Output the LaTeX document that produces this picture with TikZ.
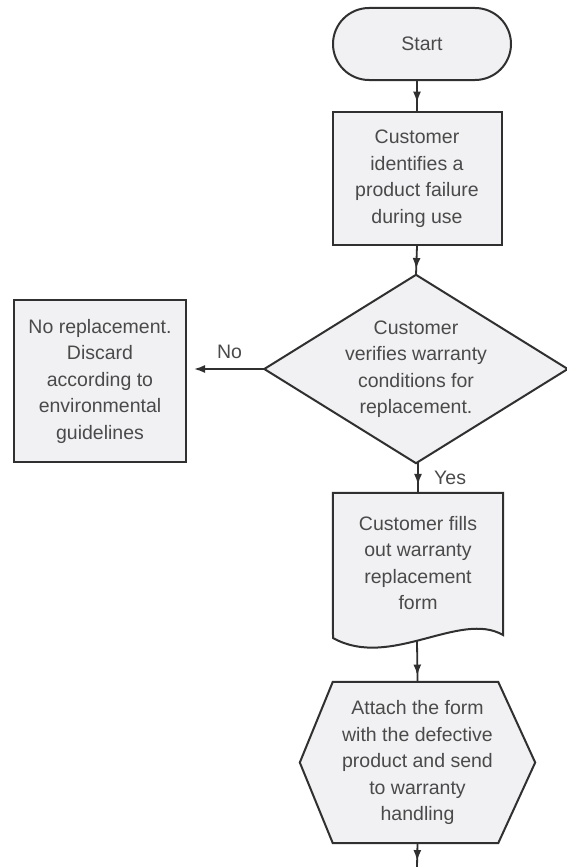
\documentclass[tikz,border=0pt]{standalone}
\usepackage{fontspec}
\setmainfont{Liberation Sans}
\usetikzlibrary{arrows.meta,decorations.markings,calc}
\definecolor{linec}{HTML}{303030}
\definecolor{fillc}{HTML}{F1F1F3}
\definecolor{textc}{HTML}{4A4A4A}
\tikzset{
  every node/.style={font=\fontsize{19.5}{26.5}\selectfont, text=textc},
  boxshape/.style={draw=linec, line width=2pt, fill=fillc, inner sep=0pt, align=center},
  ghost/.style={inner sep=0pt, align=center},
  outline/.style={draw=linec, line width=2pt, fill=fillc},
  conn/.style={draw=linec, line width=1.8pt},
  tipat/.style={postaction={decorate}, decoration={markings, mark=at position #1 with {\arrow{Latex[length=11pt,width=8pt]}}}},
  lbl/.style={inner sep=0pt}
}
\begin{document}
\begin{tikzpicture}[x=1pt,y=1pt]
\useasboundingbox (0,0) rectangle (567,-867);
\fill[white] (0,0) rectangle (567,-867);

% Start terminal
\node[boxshape, rounded corners=36pt, minimum width=178pt, minimum height=72pt] (start) at (422,-44) {Start};

% Box 1
\node[boxshape, minimum width=169pt, minimum height=133pt] (b1) at (417,-178.5)
  {Customer\\identifies a\\product failure\\during use};

% Diamond
\node[ghost, minimum width=303pt, minimum height=188pt] (dia) at (416,-369) {};
\path[outline] (dia.north) -- (dia.east) -- (dia.south) -- (dia.west) -- cycle;
\node[ghost] (diatext) at (dia.center) {Customer\\verifies warranty\\conditions for\\replacement.};

% No box
\node[boxshape, minimum width=172pt, minimum height=162pt] (nobox) at (100,-381)
  {No replacement.\\Discard\\according to\\environmental\\guidelines};

% Document
\node[ghost, minimum width=170pt, minimum height=140pt] (doc) at (418,-563) {};
\path[outline] (doc.north west) -- (doc.north east) -- (503,-635)
  .. controls (460,-610) and (390,-670) .. (333,-638) -- cycle;
\node[ghost] (doctext) at (doc.center) {Customer fills\\out warranty\\replacement\\form};
\coordinate (docb) at (417,-640);

% Hexagon
\node[ghost, minimum width=235pt, minimum height=161pt] (hex) at (417.5,-762.5) {};
\path[outline] (hex.west) -- ([xshift=33pt]hex.north west) -- ([xshift=-37pt]hex.north east)
  -- (hex.east) -- ([xshift=-37pt]hex.south east) -- ([xshift=33pt]hex.south west) -- cycle;
\node[ghost] (hextext) at (hex.center) {Attach the form\\with the defective\\product and send\\to warranty\\handling};

\coordinate (endpt) at (417,-867);

% Connectors
\path[conn, tipat=0.72] (b1.north |- start.south) -- (b1.north);
\path[conn, tipat=0.8] (b1.south) -- (dia.north);
\path[conn, -{Latex[length=11pt,width=8pt]}, shorten >=7pt] (dia.west) -- (dia.west -| nobox.east)
  node[lbl, pos=0.45, above=9pt] (nolbl) {No};
\path[conn, tipat=0.75] (dia.south) -- (doc.north |- dia.south) -- (doc.north);
\node[lbl, anchor=west] (yeslbl) at ($(dia.south)+(18,-15)$) {Yes};
\path[conn, tipat=0.85] (docb) -- (hex.north);
\path[conn, tipat=0.75] (hex.south) -- (endpt);
\end{tikzpicture}
\end{document}
